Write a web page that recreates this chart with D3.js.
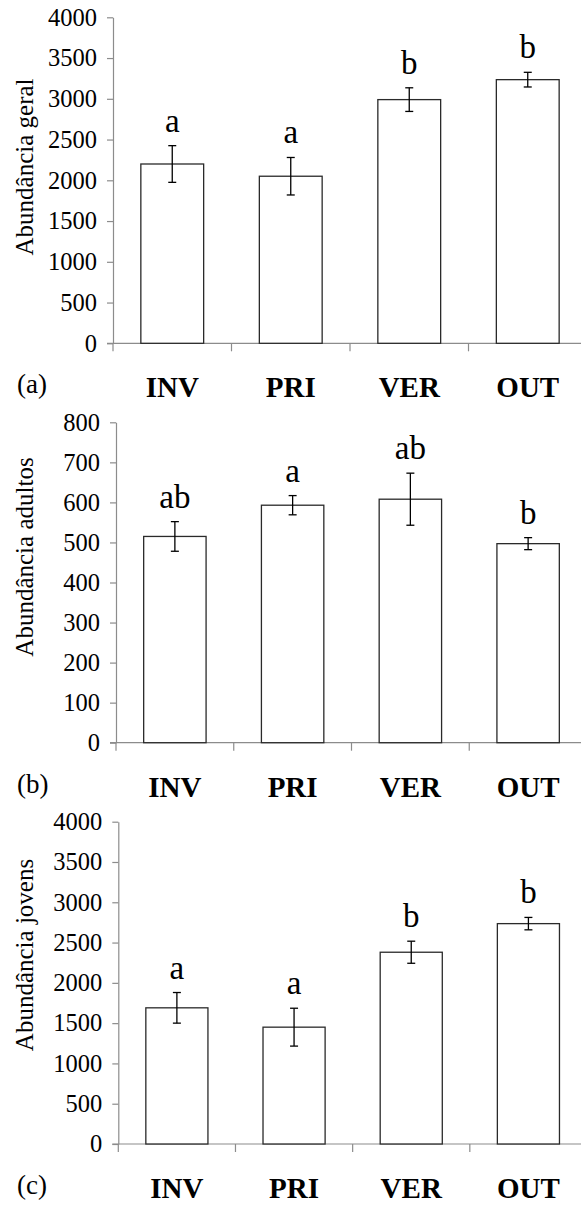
<!DOCTYPE html>
<html>
<head>
<meta charset="utf-8">
<script src="https://cdn.jsdelivr.net/npm/d3@7"></script>
<style>
  html, body { margin: 0; padding: 0; background: #fff; }
  svg text { font-family: "Liberation Serif", "Times New Roman", Times, serif !important; fill: #000; }
</style>
</head>
<body>
<svg id="chart" width="581" height="1207"></svg>
<script>
// Seasons
const categories = ["INV", "PRI", "VER", "OUT"];

// (a) overall abundance: mean and standard error
const geralMean = [2200, 2050, 2990, 3235];
const geralErr = [225, 230, 145, 90];
const geralLetters = ["a", "a", "b", "b"];
const geralTicks = [0, 500, 1000, 1500, 2000, 2500, 3000, 3500, 4000];

// (b) adults
const adultosMean = [515, 593, 608, 497];
const adultosErr = [37, 24, 65, 15];
const adultosLetters = ["ab", "a", "ab", "b"];
const adultosTicks = [0, 100, 200, 300, 400, 500, 600, 700, 800];

// (c) juveniles
const jovensMean = [1690, 1450, 2380, 2735];
const jovensErr = [190, 235, 137, 77];
const jovensLetters = ["a", "a", "b", "b"];
const jovensTicks = [0, 500, 1000, 1500, 2000, 2500, 3000, 3500, 4000];

const panels = [
  { tag: "(a)", title: "Abundância geral", mean: geralMean, err: geralErr, letters: geralLetters,
    ticks: geralTicks, left: 113, top: 17.3, bottom: 343.3, titleY: 167 },
  { tag: "(b)", title: "Abundância adultos", mean: adultosMean, err: adultosErr, letters: adultosLetters,
    ticks: adultosTicks, left: 116, top: 422.3, bottom: 742.7, titleY: 557 },
  { tag: "(c)", title: "Abundância jovens", mean: jovensMean, err: jovensErr, letters: jovensLetters,
    ticks: jovensTicks, left: 118.3, top: 821.7, bottom: 1144, titleY: 955 }
];

const serif = '"Liberation Serif", "Times New Roman", Times, serif';
const svg = d3.select("#chart");
const rightEdge = 587;
const axisColor = "#8c8c8c";

panels.forEach(p => {
  const g = svg.append("g").style("font-family", serif);
  const yMax = p.ticks[p.ticks.length - 1];
  const y = d3.scaleLinear().domain([0, yMax]).range([p.bottom, p.top]);
  const x = d3.scaleBand().domain(categories).range([p.left, rightEdge]).padding(0);
  const barW = x.step() * 0.53;

  // y axis
  const yAxis = g.append("g")
    .attr("transform", `translate(${p.left},0)`)
    .call(d3.axisLeft(y).tickValues(p.ticks).tickFormat(d3.format("d"))
      .tickSize(6).tickPadding(10).tickSizeOuter(0));
  yAxis.attr("font-family", null).attr("font-size", null);
  yAxis.select(".domain").attr("stroke", axisColor).attr("stroke-width", 1.2);
  yAxis.selectAll(".tick line").attr("stroke", axisColor).attr("stroke-width", 1.2);
  yAxis.selectAll(".tick text")
    .style("font-family", serif)
    .style("font-size", "24.5px")
    .attr("fill", "#000");

  // x axis baseline and category separators
  g.append("line")
    .attr("x1", p.left - 6).attr("x2", rightEdge)
    .attr("y1", p.bottom).attr("y2", p.bottom)
    .attr("stroke", axisColor).attr("stroke-width", 1.2);
  g.selectAll(".sep")
    .data(categories)
    .join("line")
    .attr("class", "sep")
    .attr("x1", d => x(d)).attr("x2", d => x(d))
    .attr("y1", p.bottom).attr("y2", p.bottom + 8)
    .attr("stroke", axisColor).attr("stroke-width", 1.2);

  const rows = categories.map((c, i) => ({ c, v: p.mean[i], e: p.err[i], l: p.letters[i] }));

  // bars
  g.selectAll(".bar")
    .data(rows)
    .join("rect")
    .attr("class", "bar")
    .attr("x", d => x(d.c) + (x.step() - barW) / 2)
    .attr("width", barW)
    .attr("y", d => y(d.v))
    .attr("height", d => y(0) - y(d.v))
    .attr("fill", "#fff")
    .attr("stroke", "#2a2a2a")
    .attr("stroke-width", 1.3);

  // error bars
  const cx = d => x(d.c) + x.step() / 2;
  const eb = g.selectAll(".err").data(rows).join("g").attr("class", "err")
    .attr("stroke", "#000").attr("stroke-width", 1.3);
  eb.append("line")
    .attr("x1", cx).attr("x2", cx)
    .attr("y1", d => y(d.v + d.e)).attr("y2", d => y(d.v - d.e));
  eb.append("line")
    .attr("x1", d => cx(d) - 4).attr("x2", d => cx(d) + 4)
    .attr("y1", d => y(d.v + d.e)).attr("y2", d => y(d.v + d.e));
  eb.append("line")
    .attr("x1", d => cx(d) - 4).attr("x2", d => cx(d) + 4)
    .attr("y1", d => y(d.v - d.e)).attr("y2", d => y(d.v - d.e));

  // significance letters
  g.selectAll(".letter")
    .data(rows)
    .join("text")
    .attr("class", "letter")
    .attr("x", cx)
    .attr("y", d => y(d.v + d.e) - 14)
    .attr("text-anchor", "middle")
    .style("font-size", "33px")
    .text(d => d.l);

  // category labels
  g.selectAll(".cat")
    .data(categories)
    .join("text")
    .attr("class", "cat")
    .attr("x", d => x(d) + x.step() / 2)
    .attr("y", p.bottom + 54)
    .attr("text-anchor", "middle")
    .style("font-size", "29px")
    .style("font-weight", "bold")
    .text(d => d);

  // panel tag
  g.append("text")
    .attr("x", 17)
    .attr("y", p.bottom + 50)
    .style("font-size", "27px")
    .text(p.tag);

  // y axis title
  g.append("text")
    .attr("transform", `translate(32.5,${p.titleY}) rotate(-90)`)
    .attr("text-anchor", "middle")
    .style("font-size", "25px")
    .text(p.title);
});
</script>
</body>
</html>
